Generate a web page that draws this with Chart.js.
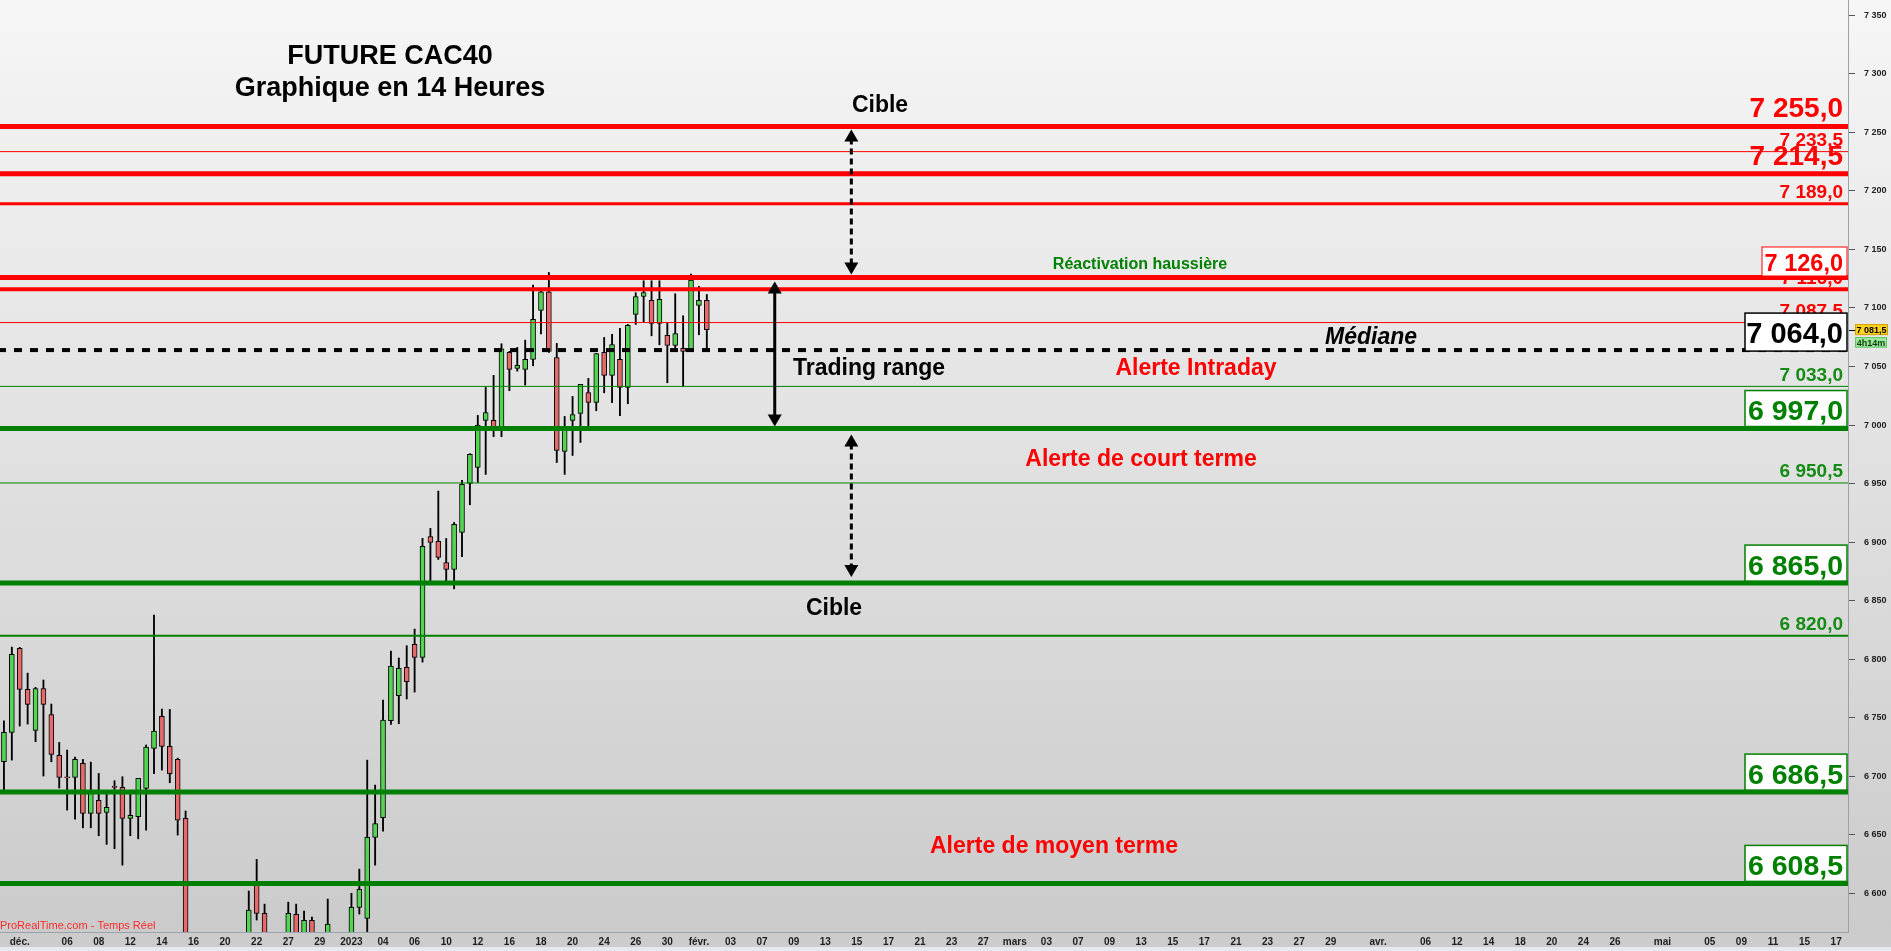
<!DOCTYPE html>
<html><head><meta charset="utf-8">
<script src="https://cdn.jsdelivr.net/npm/chart.js@4.4.0/dist/chart.umd.min.js"></script>
<style>html,body{margin:0;padding:0;background:#ccc;overflow:hidden}canvas{display:block}</style>
</head><body>
<canvas id="c" width="1891" height="951"></canvas>
<script>
// ---------- DATA ----------
const TOTAL_SLOTS = 234;
const openP = [6712.4, 6737.5, 6809.2, 6774.2, 6739.2, 6775.0, 6752.8, 6717.8, 6699.6, 6699.0,
 6711.0, 6668.3, 6679.4, 6669.1, 6691.5, 6690.5, 6664.0, 6665.4, 6689.6, 6723.8,
 6751.1, 6725.5, 6714.4, 6664.0, 6480, 6470, 6460, 6475, 6460, 6470,
 6480, 6530, 6607.1, 6582.9, 6550, 6545, 6555, 6582.0, 6558, 6576.9,
 6548, 6550, 6560, 6552, 6555, 6588.0, 6578.6, 6647.8, 6664.6, 6747.4,
 6768.8, 6793.0, 6812.6, 6801.5, 6904.8, 6900.6, 6882.6, 6876.7, 6908.3, 6950.1,
 6963.8, 7003.9, 7003.9, 6998.0, 7062.0, 7048.3, 7047.5, 7056.0, 7097.9, 7113.8,
 7057.7, 6977.4, 7003.9, 7009.9, 7027.8, 7019.3, 7062.0, 7042.4, 7056.0, 7032.1,
 7094.5, 7109.8, 7106.4, 7086.8, 7076.5, 7068.0, 7065.4, 7064.6, 7102.1, 7106.4];
const highP = [6747.4, 6810.3, 6810.1, 6788.1, 6776.0, 6782.2, 6761.7, 6728.9, 6722.4, 6716.4,
 6714.4, 6712.1, 6702.4, 6686.0, 6696.2, 6699.6, 6686.0, 6698.2, 6726.7, 6837.7,
 6757.4, 6757.1, 6715.5, 6670.3, 6500, 6490, 6480, 6495, 6485, 6490,
 6540, 6602.0, 6629.0, 6590.8, 6560, 6562, 6592.5, 6590.8, 6584.9, 6579.7,
 6560, 6595.1, 6565, 6563, 6600.0, 6620.7, 6713.8, 6692.5, 6765.1, 6806.9,
 6801.0, 6811.5, 6825.7, 6903.2, 6911.7, 6943.6, 6903.1, 6916.8, 6952.7, 6975.5,
 7008.2, 7032.1, 7042.4, 7069.4, 7062.9, 7066.3, 7072.5, 7119.5, 7115.8, 7130.3,
 7069.7, 7007.3, 7024.4, 7034.7, 7039.8, 7061.1, 7074.8, 7077.4, 7082.5, 7085.9,
 7113.0, 7123.2, 7123.2, 7123.2, 7086.8, 7112.1, 7093.3, 7128.9, 7118.4, 7111.5];
const lowP = [6688.2, 6713.8, 6742.9, 6744.6, 6729.5, 6700.2, 6712.4, 6690.0, 6671.1, 6663.4,
 6656.0, 6656.0, 6649.2, 6641.8, 6638.1, 6624.1, 6649.2, 6646.6, 6654.0, 6702.2,
 6705.3, 6694.5, 6649.8, 6470, 6450, 6445, 6440, 6455, 6440, 6455,
 6470, 6520, 6577.2, 6540, 6530, 6530, 6548, 6550, 6550, 6540,
 6535, 6540, 6540, 6540, 6548, 6582.3, 6560, 6624.1, 6653.2, 6744.3,
 6744.9, 6766.0, 6771.9, 6797.5, 6866.7, 6885.2, 6866.7, 6860.1, 6887.5, 6931.9,
 6951.0, 6957.8, 6990.0, 6990.0, 7029.3, 7046.0, 7034.1, 7050.6, 7077.9, 7062.0,
 6968.0, 6957.8, 6974.0, 6985.1, 6997.9, 7012.2, 7027.5, 7019.0, 7007.9, 7018.2,
 7085.9, 7088.2, 7076.2, 7068.5, 7036.1, 7064.0, 7032.7, 7063.0, 7077.1, 7064.6];
const closeP = [6737.5, 6804.1, 6774.2, 6761.4, 6775.0, 6761.4, 6718.7, 6699.0, 6698.6, 6714.4,
 6668.3, 6686.0, 6668.3, 6673.4, 6690.5, 6664.0, 6666.6, 6698.2, 6724.9, 6738.6,
 6725.5, 6702.2, 6662.6, 6480, 6470, 6460, 6475, 6460, 6470, 6480,
 6530, 6585.7, 6582.9, 6550, 6545, 6555, 6582.9, 6558, 6576.9, 6548,
 6550, 6573.8, 6552, 6555, 6588.0, 6603.4, 6647.8, 6659.7, 6748.0, 6794.1,
 6792.1, 6780.7, 6801.5, 6896.3, 6899.7, 6886.9, 6876.7, 6915.1, 6949.3, 6974.9,
 6999.9, 7010.7, 6997.1, 7065.1, 7047.5, 7050.9, 7056.0, 7090.2, 7113.8, 7062.9,
 6978.3, 6996.0, 7009.0, 7034.7, 7019.3, 7061.1, 7042.4, 7068.8, 7032.1, 7085.1,
 7109.8, 7113.2, 7086.8, 7107.3, 7068.0, 7078.2, 7062.9, 7123.8, 7106.4, 7081.5];

const tickSlots = [2,8,12,16,20,24,28,32,36,40,44,48,52,56,60,64,68,72,76,80,84,88,92,96,100,104,108,112,116,120,124,128,132,136,140,144,148,152,156,160,164,168,174,180,184,188,192,196,200,204,210,216,220,224,228,232];
const tickTexts = ['déc.','06','08','12','14','16','20','22','27','29','2023','04','06','10','12','16','18','20','24','26','30','févr.','03','07','09','13','15','17','21','23','27','mars','03','07','09','13','15','17','21','23','27','29','avr.','06','12','14','18','20','24','26','mai','05','09','11','15','17'];

const yMin = 6567, yMax = 7363, yStep = 50;

const levelValues = [7255.0, 7233.5, 7214.5, 7189.0, 7126.0, 7116.0, 7087.5, 7064.0, 7033.0, 6997.0, 6950.5, 6865.0, 6820.0, 6686.5, 6608.5];
const levelTone   = ['r','r','r','r','r','r','r','k','g','g','g','g','g','g','g'];

const titleLines = ['FUTURE CAC40', 'Graphique en 14 Heures'];
const countdownText = '4h14m';
const sourceText = 'ProRealTime.com - Temps Réel';

// ---------- STYLES (kept apart from data) ----------
const FONT = "'Liberation Sans', Arial, sans-serif";
const RED = '#ff0000', GREEN = '#008000', GREEN_TXT = '#148c14';
const toneColor = { r: RED, g: GREEN, k: '#000000' };
const levelLineWidth  = [5,1,5,3,5,4,1,4,1,5,1,5,2,5,5];
const levelLabelStyle = ['big','med','big','med','boxS','med','med','boxK','med','box','med','box','med','box','box'];

function fmtNum(v, dec) {
  const s = v.toFixed(dec);
  const parts = s.split('.');
  const intPart = parts[0].replace(/\B(?=(\d{3})+(?!\d))/g, ' ');
  return parts.length > 1 ? intPart + ',' + parts[1] : intPart;
}

const labels = Array.from({length: TOTAL_SLOTS}, (_, i) => {
  const k = tickSlots.indexOf(i);
  return k >= 0 ? tickTexts[k] : '';
});
const wickData = lowP.map((l, i) => [l, highP[i]]);
const bodyData = openP.map((o, i) => [o, closeP[i]]);
const bodyColors = openP.map((o, i) => closeP[i] >= o ? '#52d652' : '#e66a6a');

// ---------- PLUGINS ----------
const bgPlugin = {
  id: 'bg',
  beforeDraw(chart) {
    const ctx = chart.ctx, W = chart.width, H = chart.height;
    const g = ctx.createLinearGradient(0, 0, 0, chart.chartArea.bottom);
    g.addColorStop(0, '#f6f6f6');
    g.addColorStop(1, '#cbcbcb');
    ctx.save();
    ctx.fillStyle = g;
    ctx.fillRect(0, 0, W, chart.chartArea.bottom);
    ctx.fillStyle = '#cccccc';
    ctx.fillRect(0, chart.chartArea.bottom, W, H - chart.chartArea.bottom);
    ctx.fillStyle = '#e4eaf0';
    ctx.fillRect(0, 947, W, H - 947);
    ctx.restore();
  }
};

function arrow(ctx, x, y1, y2, dashed) {
  const head = 12, hw = 7;
  ctx.save();
  ctx.strokeStyle = '#000'; ctx.fillStyle = '#000'; ctx.lineWidth = 3;
  if (dashed) ctx.setLineDash([6, 4]);
  ctx.beginPath(); ctx.moveTo(x, y1 + head - 1); ctx.lineTo(x, y2 - head + 1); ctx.stroke();
  ctx.setLineDash([]);
  ctx.beginPath(); ctx.moveTo(x, y1); ctx.lineTo(x - hw, y1 + head); ctx.lineTo(x + hw, y1 + head); ctx.closePath(); ctx.fill();
  ctx.beginPath(); ctx.moveTo(x, y2); ctx.lineTo(x - hw, y2 - head); ctx.lineTo(x + hw, y2 - head); ctx.closePath(); ctx.fill();
  ctx.restore();
}

function txt(ctx, s, x, y, font, color, align) {
  ctx.font = font; ctx.fillStyle = color; ctx.textAlign = align || 'center'; ctx.textBaseline = 'alphabetic';
  ctx.fillText(s, x, y);
}

const overlayPlugin = {
  id: 'overlay',
  afterDatasetsDraw(chart) {
    const ctx = chart.ctx, a = chart.chartArea, ys = chart.scales.y, xs = chart.scales.x;
    const py = v => ys.getPixelForValue(v);
    ctx.save();
    ctx.beginPath(); ctx.rect(a.left, a.top, a.right - a.left, a.bottom - a.top); ctx.clip();
    // level lines
    levelValues.forEach((v, i) => {
      const y = py(v);
      ctx.beginPath();
      ctx.lineWidth = levelLineWidth[i];
      ctx.strokeStyle = toneColor[levelTone[i]];
      if (levelTone[i] === 'k') { ctx.setLineDash([8, 8]); ctx.lineDashOffset = 2; } else ctx.setLineDash([]);
      ctx.moveTo(a.left, y); ctx.lineTo(a.right, y); ctx.stroke();
    });
    ctx.setLineDash([]);

    // level labels: plain first, boxes last
    const rx = a.right - 5;
    levelValues.forEach((v, i) => {
      const st = levelLabelStyle[i]; if (st.startsWith('box')) return;
      const y = py(v), tone = levelTone[i];
      const col = tone === 'g' ? GREEN_TXT : toneColor[tone];
      if (st === 'big') txt(ctx, fmtNum(v, 1), rx, y - 9, 'bold 28px ' + FONT, col, 'right');
      else txt(ctx, fmtNum(v, 1), rx, y - 5.5, 'bold 19px ' + FONT, col, 'right');
    });
    levelValues.forEach((v, i) => {
      const st = levelLabelStyle[i]; if (!st.startsWith('box')) return;
      const y = py(v), col = toneColor[levelTone[i]];
      let w, h, bottom, fs, base, lw;
      if (st === 'box')  { w = 102; h = 36; bottom = y - 2;   fs = 28.5; base = 6.5; lw = 1.5; }
      if (st === 'boxK') { w = 102; h = 38; bottom = y + 1;   fs = 29;   base = 8;   lw = 1.5; }
      if (st === 'boxS') { w = 85;  h = 29; bottom = y - 1.5; fs = 23.5; base = 5;   lw = 1; }
      const right = a.right - 1;
      ctx.fillStyle = '#ffffff';
      ctx.fillRect(right - w, bottom - h, w, h);
      ctx.lineWidth = lw; ctx.strokeStyle = col;
      ctx.strokeRect(right - w, bottom - h, w, h);
      txt(ctx, fmtNum(v, 1), rx, bottom - base, 'bold ' + fs + 'px ' + FONT, col, 'right');
    });

    // arrows (anchored on levels)
    const xDot = xs.getPixelForValue(107.3), xSolid = xs.getPixelForValue(97.6);
    arrow(ctx, xDot, py(7255.0) + 3, py(7126.0) - 3, true);
    arrow(ctx, xSolid, py(7126.0) + 4, py(6997.0) - 2, false);
    arrow(ctx, xDot, py(6997.0) + 6, py(6865.0) - 6, true);

    // annotations
    titleLines.forEach((t, i) => txt(ctx, t, 390, 64 + i * 32, 'bold 27px ' + FONT, '#000'));
    txt(ctx, 'Cible', 880, py(7255.0) - 14, 'bold 23px ' + FONT, '#000');
    txt(ctx, 'Réactivation haussière', 1140, py(7126.0) - 8, 'bold 16px ' + FONT, GREEN);
    txt(ctx, 'Médiane', 1371, py(7064.0) - 6, 'italic bold 23px ' + FONT, '#000');
    txt(ctx, 'Trading range', 793, py(7064.0) + 25, 'bold 23px ' + FONT, '#000', 'left');
    txt(ctx, 'Alerte Intraday', 1196, py(7064.0) + 25, 'bold 23px ' + FONT, RED);
    txt(ctx, 'Alerte de court terme', 1141, py(6997.0) + 37, 'bold 23px ' + FONT, RED);
    txt(ctx, 'Cible', 834, py(6865.0) + 32, 'bold 23px ' + FONT, '#000');
    txt(ctx, 'Alerte de moyen terme', 1054, py(6686.5) + 61, 'bold 23px ' + FONT, RED);
    txt(ctx, sourceText, 0, a.bottom - 3, '11px ' + FONT, '#ff2a2a', 'left');
    ctx.restore();

    // last price tag on the axis
    const last = closeP[closeP.length - 1];
    const yl = py(last);
    ctx.save();
    ctx.strokeStyle = '#000'; ctx.lineWidth = 1;
    ctx.beginPath(); ctx.moveTo(a.right + 1, Math.round(yl) + 0.5); ctx.lineTo(a.right + 7, Math.round(yl) + 0.5); ctx.stroke();
    ctx.fillStyle = '#ffd21f'; ctx.fillRect(a.right + 7, yl - 5.5, 33, 11);
    ctx.strokeStyle = '#d0a000'; ctx.strokeRect(a.right + 7.5, yl - 5, 32, 10);
    txt(ctx, fmtNum(last, 1), a.right + 23.5, yl + 3.5, 'bold 9px ' + FONT, '#000');
    ctx.fillStyle = '#9be89b'; ctx.fillRect(a.right + 7, yl + 7.5, 32, 10.5);
    ctx.strokeStyle = '#66c266'; ctx.strokeRect(a.right + 7.5, yl + 8, 31, 9.5);
    txt(ctx, countdownText, a.right + 23, yl + 16, 'bold 9px ' + FONT, '#0b3b0b');
    ctx.restore();
  }
};

// ---------- CHART ----------
new Chart(document.getElementById('c'), {
  type: 'bar',
  data: {
    labels: labels,
    datasets: [
      { data: wickData, backgroundColor: '#000', borderWidth: 0, barThickness: 1.2, grouped: false, order: 2 },
      { data: bodyData, backgroundColor: bodyColors, borderColor: '#000', borderWidth: 1, borderSkipped: false, barThickness: 5, grouped: false, order: 1 }
    ]
  },
  options: {
    responsive: false,
    animation: false,
    events: [],
    layout: { padding: 0 },
    plugins: { legend: { display: false }, tooltip: { enabled: false } },
    scales: {
      x: {
        type: 'category', offset: true,
        grid: { display: true, drawOnChartArea: false, drawTicks: false },
        border: { display: true, color: '#9aa3ab', width: 1 },
        ticks: { autoSkip: false, maxRotation: 0, minRotation: 0, padding: 4,
                 font: { family: FONT, weight: 'bold', size: 10 }, color: '#1e1e1e' },
        afterFit(s) { s.height = 19; s.paddingLeft = 0; s.paddingRight = 0; }
      },
      y: {
        type: 'linear', position: 'right', min: yMin, max: yMax,
        grid: { display: true, drawOnChartArea: false, drawTicks: true, tickLength: 7, tickColor: '#555', tickWidth: 1 },
        border: { display: true, color: '#9aa3ab', width: 1 },
        ticks: { stepSize: yStep, includeBounds: false, maxTicksLimit: 100, padding: 9,
                 font: { family: FONT, weight: 'bold', size: 9 }, color: '#222',
                 callback: v => fmtNum(v, 0) },
        afterFit(s) { s.width = 43; s.paddingTop = 0; s.paddingBottom = 0; }
      }
    }
  },
  plugins: [bgPlugin, overlayPlugin]
});
</script>
</body></html>
